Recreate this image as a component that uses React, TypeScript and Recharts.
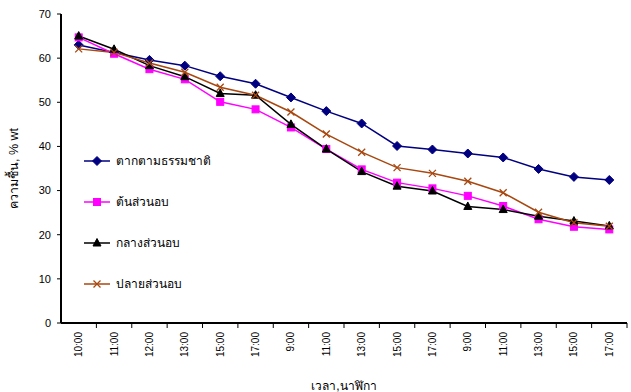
import React from 'react';
import { LineChart, Line, XAxis, YAxis, Legend } from 'recharts';

// เวลา (วันที่ 1 - 3)
const times = ['10:00', '11:00', '12:00', '13:00', '15:00', '17:00', '9:00', '11:00', '13:00', '15:00', '17:00', '9:00', '11:00', '13:00', '15:00', '17:00'];

// ความชื้น % wt
const natural = [63.0, 61.3, 59.6, 58.3, 55.9, 54.2, 51.1, 48.0, 45.2, 40.1, 39.3, 38.4, 37.5, 34.9, 33.1, 32.4];
const front = [64.7, 61.0, 57.5, 55.2, 50.1, 48.4, 44.3, 39.4, 34.8, 31.8, 30.5, 28.8, 26.5, 23.5, 21.8, 21.2];
const middle = [65.0, 62.0, 58.3, 55.8, 52.0, 51.6, 45.0, 39.4, 34.3, 31.0, 29.9, 26.4, 25.7, 24.2, 23.1, 22.0];
const back = [62.1, 61.3, 58.9, 56.8, 53.4, 51.6, 47.8, 42.8, 38.7, 35.2, 33.9, 32.1, 29.5, 25.1, 22.7, 21.9];

const yTicks = [0, 10, 20, 30, 40, 50, 60, 70];

const data = times.map((t, i) => ({
  time: t,
  natural: natural[i],
  front: front[i],
  middle: middle[i],
  back: back[i],
}));

const font = '"Liberation Sans", Arial, "DejaVu Sans", "Noto Sans", sans-serif';

const NAVY = '#000080';
const PINK = '#FF00FF';
const BLACK = '#000000';
const BROWN = '#A8470F';

// half of one category slot (plot width 566 / 16)
const HALF = 17.7;

const Diamond = ({ cx, cy, color }: any) => (
  <path d={`M${cx},${cy - 4.5} L${cx + 4.5},${cy} L${cx},${cy + 4.5} L${cx - 4.5},${cy} Z`} fill={color} stroke={color} />
);
const Square = ({ cx, cy, color }: any) => (
  <rect x={cx - 3.5} y={cy - 3.5} width={7} height={7} fill={color} stroke={color} />
);
const Triangle = ({ cx, cy, color }: any) => (
  <path d={`M${cx},${cy - 4.5} L${cx + 4},${cy + 3} L${cx - 4},${cy + 3} Z`} fill={color} stroke={color} />
);
const Cross = ({ cx, cy, color }: any) => (
  <path d={`M${cx - 3.5},${cy - 3.5} L${cx + 3.5},${cy + 3.5} M${cx + 3.5},${cy - 3.5} L${cx - 3.5},${cy + 3.5}`} stroke={color} strokeWidth={1.3} fill="none" />
);

const series = [
  { key: 'natural', name: 'ตากตามธรรมชาติ', color: NAVY, Marker: Diamond },
  { key: 'front', name: 'ต้นส่วนอบ', color: PINK, Marker: Square },
  { key: 'middle', name: 'กลางส่วนอบ', color: BLACK, Marker: Triangle },
  { key: 'back', name: 'ปลายส่วนอบ', color: BROWN, Marker: Cross },
];

const TimeTick = ({ x, y, payload }: any) => (
  <g>
    <line x1={x + HALF} y1={y - 8} x2={x + HALF} y2={y - 3} stroke="#000" strokeWidth={1} />
    <text
      x={0}
      y={0}
      transform={`translate(${x},${y + 1}) rotate(-90)`}
      textAnchor="end"
      dominantBaseline="central"
      fontSize={10}
      fontFamily={font}
      fill="#000"
    >
      {payload.value}
    </text>
  </g>
);

const LegendBox = () => (
  <div style={{ fontFamily: font, fontSize: 12, color: '#000' }}>
    {series.map((s) => (
      <div key={s.key} style={{ display: 'flex', alignItems: 'center', height: 41 }}>
        <svg width={28} height={12} style={{ marginRight: 4 }}>
          <line x1={0} y1={6} x2={26} y2={6} stroke={s.color} strokeWidth={1.5} />
          <s.Marker cx={13} cy={6} color={s.color} />
        </svg>
        <span>{s.name}</span>
      </div>
    ))}
  </div>
);

export default function App() {
  return (
    <div style={{ position: 'absolute', left: 0, top: 0, background: '#fff' }}>
      <LineChart width={631} height={392} data={data} margin={{ top: 14, right: 4, left: 0, bottom: 0 }}>
        <XAxis
          dataKey="time"
          height={69}
          padding={{ left: HALF, right: HALF }}
          tick={<TimeTick />}
          tickLine={false}
          axisLine={{ stroke: '#000', strokeWidth: 2 }}
          interval={0}
          label={{ value: 'เวลา,นาฬิกา', position: 'insideBottom', offset: 2, fontSize: 12, fontFamily: font, fill: '#000' }}
        />
        <XAxis xAxisId="top" orientation="top" dataKey="time" height={0} tick={false} tickLine={false} axisLine={{ stroke: '#000', strokeWidth: 1 }} />
        <YAxis
          width={61}
          domain={[0, 70]}
          ticks={yTicks}
          interval={0}
          tickSize={4}
          tickMargin={6}
          tick={{ fontSize: 11, fontFamily: font, fill: '#000' }}
          tickLine={{ stroke: '#000' }}
          axisLine={{ stroke: '#000', strokeWidth: 2 }}
          label={{ value: 'ความชื้น, % wt', angle: -90, position: 'insideLeft', offset: 14, fontSize: 12.5, fontFamily: font, fill: '#000', style: { textAnchor: 'middle' } }}
        />
        <YAxis yAxisId="right" orientation="right" width={0} domain={[0, 70]} tick={false} tickLine={false} axisLine={{ stroke: '#000', strokeWidth: 1 }} />
        <Legend
          layout="vertical"
          align="center"
          verticalAlign="middle"
          content={<LegendBox />}
          wrapperStyle={{ left: 84, top: 140, width: 200 }}
        />
        {series.map((s) => (
          <Line
            key={s.key}
            dataKey={s.key}
            name={s.name}
            stroke={s.color}
            strokeWidth={1.5}
            type="linear"
            isAnimationActive={false}
            dot={(p: any) => <s.Marker key={`${s.key}-${p.index}`} cx={p.cx} cy={p.cy} color={s.color} />}
            activeDot={false}
          />
        ))}
      </LineChart>
    </div>
  );
}
